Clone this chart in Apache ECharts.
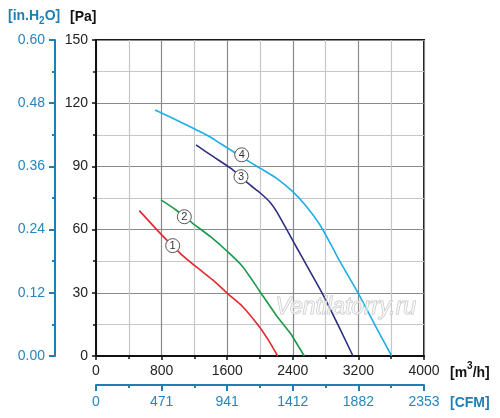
<!DOCTYPE html>
<html>
<head>
<meta charset="utf-8">
<script src="https://cdn.jsdelivr.net/npm/echarts@6/dist/echarts.min.js"></script>
<style>html,body{margin:0;padding:0;background:#fff}#c{width:500px;height:418px}</style>
</head>
<body>
<div id="c"></div>
<script>
// ---- data (flow m3/h, pressure Pa) ----
const curve1Q = [528, 813, 1037, 1220, 1423, 1606, 1789, 1992, 2114, 2215];
const curve1P = [69.0, 57.0, 48.4, 42.4, 36.1, 29.6, 23.4, 13.9, 6.8, 0];
const curve2Q = [793, 976, 1179, 1400, 1606, 1789, 1992, 2195, 2366, 2431, 2540];
const curve2P = [74.1, 69.3, 63.0, 56.5, 49.5, 42.4, 31.0, 19.5, 11.0, 7.0, 0];
const curve3Q = [1220, 1431, 1654, 1878, 2000, 2122, 2203, 2447, 2569, 2772, 2955, 3134];
const curve3P = [100.2, 94.6, 88.8, 81.2, 77.5, 73.0, 68.5, 51.5, 43.0, 28.8, 14.5, 0];
const curve4Q = [720, 1024, 1350, 1512, 1878, 2000, 2203, 2400, 2569, 2732, 2880, 2976, 3200, 3402, 3606];
const curve4P = [116.8, 111.2, 104.9, 101.0, 92.0, 89.2, 84.3, 78.0, 70.9, 62.2, 51.8, 44.8, 29.6, 14.7, 0];
const markQ = [935, 1077, 1768, 1777];
const markP = [52.4, 66.1, 85.1, 95.5];
const markText = ['1', '2', '3', '4'];
const cfmLabels = ['0', '471', '941', '1412', '1882', '2353'];
const inH2OLabels = ['0.00', '0.12', '0.24', '0.36', '0.48', '0.60'];

const BLUE = '#1f7fb4';
const BLUE_T = '#2685bd';
const FONT = 'Liberation Sans';
const zip = (a, b) => a.map((v, i) => [v, b[i]]);

const chart = echarts.init(document.getElementById('c'), null, {renderer: 'canvas'});

const lineSeries = (q, p, color) => ({
  type: 'line', xAxisIndex: 0, yAxisIndex: 0, data: zip(q, p),
  smooth: 0.25, symbol: 'none', lineStyle: {color: color, width: 1.6}, z: 3
});

chart.setOption({
  backgroundColor: '#fff',
  animation: false,
  grid: {left: 96, top: 40, right: 76, bottom: 62, show: true, borderColor: '#1a1a1a', borderWidth: 2},
  xAxis: [
    {
      type: 'value', position: 'bottom', min: 0, max: 4000, interval: 800,
      axisLine: {show: true, onZero: false, lineStyle: {color: '#111', width: 2}},
      axisTick: {show: true, length: 4, lineStyle: {color: '#111', width: 1.5}},
      minorTick: {show: true, splitNumber: 2, length: 3, lineStyle: {color: '#111', width: 1.5}},
      splitLine: {show: true, lineStyle: {color: '#8a8a8a', width: 1.2}},
      minorSplitLine: {show: true, lineStyle: {color: '#c6c6c6', width: 1.2}},
      axisLabel: {fontSize: 14, color: '#222', margin: 8, fontFamily: FONT, formatter: v => String(v)}
    },
    {
      type: 'value', position: 'bottom', offset: 29, min: 0, max: 4000, interval: 800,
      axisLine: {show: true, onZero: false, lineStyle: {color: BLUE, width: 2}},
      axisTick: {show: true, length: 6, lineStyle: {color: BLUE, width: 2}},
      minorTick: {show: true, splitNumber: 2, length: 3, lineStyle: {color: BLUE, width: 2}},
      splitLine: {show: false},
      axisLabel: {fontSize: 14, color: BLUE_T, margin: 10, fontFamily: FONT,
        formatter: v => cfmLabels[Math.round(v / 800)]}
    }
  ],
  yAxis: [
    {
      type: 'value', position: 'left', min: 0, max: 150, interval: 30,
      axisLine: {show: true, onZero: false, lineStyle: {color: '#111', width: 2}},
      axisTick: {show: true, length: 4, lineStyle: {color: '#111', width: 1.5}},
      minorTick: {show: true, splitNumber: 2, length: 3, lineStyle: {color: '#111', width: 1.5}},
      splitLine: {show: true, lineStyle: {color: '#8a8a8a', width: 1.2}},
      minorSplitLine: {show: true, lineStyle: {color: '#c6c6c6', width: 1.2}},
      axisLabel: {fontSize: 14, color: '#222', margin: 8, fontFamily: FONT}
    },
    {
      type: 'value', position: 'left', offset: 41, min: 0, max: 150, interval: 30,
      axisLine: {show: true, onZero: false, lineStyle: {color: BLUE, width: 2}},
      axisTick: {show: true, length: 6, lineStyle: {color: BLUE, width: 2}},
      minorTick: {show: true, splitNumber: 2, length: 3, lineStyle: {color: BLUE, width: 2}},
      splitLine: {show: false},
      axisLabel: {fontSize: 14, color: BLUE_T, margin: 10, fontFamily: FONT,
        formatter: v => inH2OLabels[Math.round(v / 30)]}
    }
  ],
  series: [
    lineSeries(curve1Q, curve1P, '#e5262b'),
    lineSeries(curve2Q, curve2P, '#19994a'),
    lineSeries(curve3Q, curve3P, '#2c2f80'),
    lineSeries(curve4Q, curve4P, '#1eaee6'),
    {
      type: 'scatter', xAxisIndex: 0, yAxisIndex: 0, z: 5,
      data: markQ.map((q, i) => [q, markP[i], markText[i]]),
      symbol: 'circle', symbolSize: 14,
      itemStyle: {color: '#fff', borderColor: '#555', borderWidth: 1, opacity: 1},
      label: {show: true, position: 'inside', formatter: p => p.value[2], fontSize: 11, color: '#333', fontFamily: FONT},
      emphasis: {disabled: true}
    }
  ],
  graphic: [
    {type: 'text', left: 8, top: 9, z: 10, style: {
      text: '{a|[in.H}{s|2}{a|O]}', fill: BLUE,
      rich: {
        a: {fontSize: 14, fontWeight: 'bold', fontFamily: FONT, fill: BLUE, lineHeight: 20, verticalAlign: 'middle'},
        s: {fontSize: 10, fontWeight: 'bold', fontFamily: FONT, fill: BLUE, lineHeight: 10, verticalAlign: 'bottom'}
      }}},
    {type: 'text', left: 70, top: 10, z: 10, style: {text: '[Pa]', fontSize: 14, fontWeight: 'bold', fontFamily: FONT, fill: '#111'}},
    {type: 'text', left: 450, top: 361, z: 10, style: {
      text: '{a|[m}{s|3}{a|/h]}', fill: '#111',
      rich: {
        a: {fontSize: 14, fontWeight: 'bold', fontFamily: FONT, fill: '#111', lineHeight: 24, verticalAlign: 'middle'},
        s: {fontSize: 10, fontWeight: 'bold', fontFamily: FONT, fill: '#111', lineHeight: 10, verticalAlign: 'top'}
      }}},
    {type: 'text', left: 450, top: 396, z: 10, style: {text: '[CFM]', fontSize: 14, fontWeight: 'bold', fontFamily: FONT, fill: BLUE}},
    {type: 'text', left: 275, top: 296, z: 4, silent: true, style: {
      text: 'Ventilatorry.ru', fontSize: 23, fontStyle: 'italic', fontFamily: FONT,
      fill: 'rgba(255,255,255,0.55)', stroke: '#c4c4c4', lineWidth: 1}}
  ]
});
</script>
</body>
</html>
